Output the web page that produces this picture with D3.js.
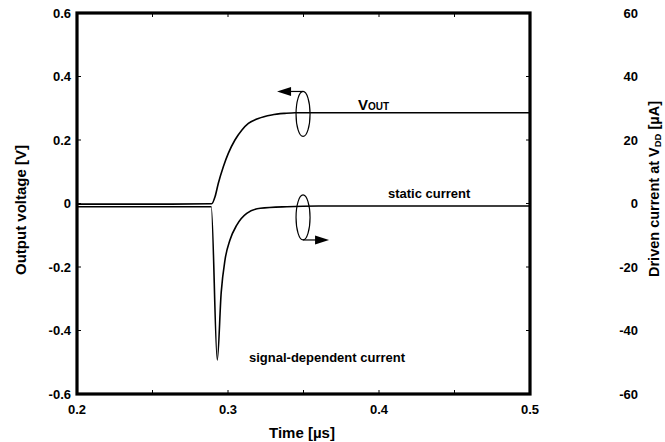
<!DOCTYPE html>
<html><head><meta charset="utf-8">
<script src="https://cdn.jsdelivr.net/npm/d3@7"></script>
<style>
body{margin:0;background:#fff;}
text{font-family:"Liberation Sans",Arial,sans-serif;font-weight:bold;fill:#000;}
</style></head>
<body><svg id="c" width="665" height="442"></svg>
<script>
// Data
const timeV = [0.2, 0.25, 0.2892, 0.2914, 0.2936, 0.2969, 0.3002, 0.3046, 0.3091, 0.3135, 0.3201, 0.3289, 0.3377, 0.3444, 0.4, 0.5];
const vout  = [-0.002, -0.002, -0.001, 0.021, 0.064, 0.116, 0.158, 0.200, 0.231, 0.252, 0.268, 0.279, 0.284, 0.286, 0.286, 0.286];
const timeI = [0.2, 0.25, 0.2889, 0.2929, 0.2955, 0.298, 0.3013, 0.3058, 0.3124, 0.3214, 0.3389, 0.36, 0.5];
const current = [-1.0, -1.0, -1.0, -49.3, -28, -17.8, -11.5, -6.8, -3.1, -1.5, -1.0, -0.8, -0.8];
const xTicks = [0.2, 0.3, 0.4, 0.5];
const xMinor = [0.25, 0.3, 0.35, 0.4, 0.45];
const yLeftTicks = [-0.6, -0.4, -0.2, 0, 0.2, 0.4, 0.6];
const yRightTicks = [-60, -40, -20, 0, 20, 40, 60];

const svg = d3.select("#c");
const L = 77, R = 530, T = 13, B = 394;
const x = d3.scaleLinear().domain([0.2, 0.5]).range([L, R]);
const yL = d3.scaleLinear().domain([-0.6, 0.6]).range([B, T]);
const yR = d3.scaleLinear().domain([-60, 60]).range([B, T]);

// inner ticks
const tk = 4;
const g = svg.append("g");
xMinor.forEach(t => {
  g.append("line").attr("x1", x(t)).attr("x2", x(t)).attr("y1", B).attr("y2", B - tk).attr("stroke", "#000").attr("stroke-width", 1);
  g.append("line").attr("x1", x(t)).attr("x2", x(t)).attr("y1", T).attr("y2", T + tk).attr("stroke", "#000").attr("stroke-width", 1);
});
yLeftTicks.slice(1, -1).forEach(v => {
  g.append("line").attr("x1", L).attr("x2", L + tk).attr("y1", yL(v)).attr("y2", yL(v)).attr("stroke", "#000");
});
yRightTicks.slice(1, -1).forEach(v => {
  g.append("line").attr("x1", R).attr("x2", R - tk).attr("y1", yR(v)).attr("y2", yR(v)).attr("stroke", "#000");
});

// tick labels
const fs = 13;
yLeftTicks.forEach(v => {
  svg.append("text").attr("x", 71).attr("y", yL(v) + 4.5).attr("text-anchor", "end")
    .attr("font-size", fs).text(v === 0 ? "0" : d3.format(".1f")(v).replace("−", "-"));
});
yRightTicks.forEach(v => {
  svg.append("text").attr("x", 638).attr("y", yR(v) + 4.5).attr("text-anchor", "end")
    .attr("font-size", fs).text(String(v));
});
xTicks.forEach(t => {
  svg.append("text").attr("x", x(t)).attr("y", 414).attr("text-anchor", "middle")
    .attr("font-size", fs).text(d3.format(".1f")(t));
});

// axis titles
svg.append("text").attr("x", 302).attr("y", 438).attr("text-anchor", "middle").attr("font-size", 15).text("Time [µs]");
svg.append("text").attr("transform", "translate(26,210) rotate(-90)").attr("text-anchor", "middle").attr("font-size", 15).text("Output voltage [V]");
const rt = svg.append("text").attr("transform", "translate(659,189) rotate(-90)").attr("text-anchor", "middle").attr("font-size", 14.5);
rt.append("tspan").text("Driven current at V");
rt.append("tspan").attr("font-size", 9.5).attr("dy", 2).text("DD");
rt.append("tspan").attr("dy", -2).text("  [µA]");

// curves
const lineV = d3.line().x((d, i) => x(timeV[i])).y(d => yL(d)).curve(d3.curveMonotoneX);
const lineI = d3.line().x((d, i) => x(timeI[i])).y(d => yR(d)).curve(d3.curveMonotoneX);
svg.append("path").attr("d", lineV(vout)).attr("fill", "none").attr("stroke", "#000").attr("stroke-width", 1.6);
svg.append("path").attr("d", lineI(current)).attr("fill", "none").attr("stroke", "#000").attr("stroke-width", 1.6);

// annotations: ellipses and arrows
function ellipse(cx, cy) {
  svg.append("ellipse").attr("cx", cx).attr("cy", cy).attr("rx", 7).attr("ry", 22.5)
    .attr("fill", "none").attr("stroke", "#000").attr("stroke-width", 1.2);
}
const ex = x(0.3497);
const e1y = yL(0.282), e2y = yR(-4.4);
ellipse(ex, e1y);
ellipse(ex, e2y);
// upper arrow left
const ay1 = e1y - 22.5;
svg.append("line").attr("x1", ex).attr("x2", ex - 14).attr("y1", ay1).attr("y2", ay1).attr("stroke", "#000").attr("stroke-width", 1.2);
svg.append("path").attr("d", `M${ex - 26},${ay1} L${ex - 12},${ay1 - 4.5} L${ex - 12},${ay1 + 4.5} Z`).attr("fill", "#000");
// lower arrow right
const ay2 = e2y + 22.5;
svg.append("line").attr("x1", ex).attr("x2", ex + 14).attr("y1", ay2).attr("y2", ay2).attr("stroke", "#000").attr("stroke-width", 1.2);
svg.append("path").attr("d", `M${ex + 26},${ay2} L${ex + 12},${ay2 - 4.5} L${ex + 12},${ay2 + 4.5} Z`).attr("fill", "#000");

// labels
const vl = svg.append("text").attr("x", 358).attr("y", 110).attr("font-size", 15);
vl.append("tspan").text("V");
vl.append("tspan").attr("font-size", 10).text("OUT");
svg.append("text").attr("x", 388).attr("y", 198).attr("font-size", 13).text("static current");
svg.append("text").attr("x", 249).attr("y", 362).attr("font-size", 13).text("signal-dependent current");

// frame
svg.append("rect").attr("x", L).attr("y", T).attr("width", R - L).attr("height", B - T)
  .attr("fill", "none").attr("stroke", "#000").attr("stroke-width", 3.2);
</script></body></html>
